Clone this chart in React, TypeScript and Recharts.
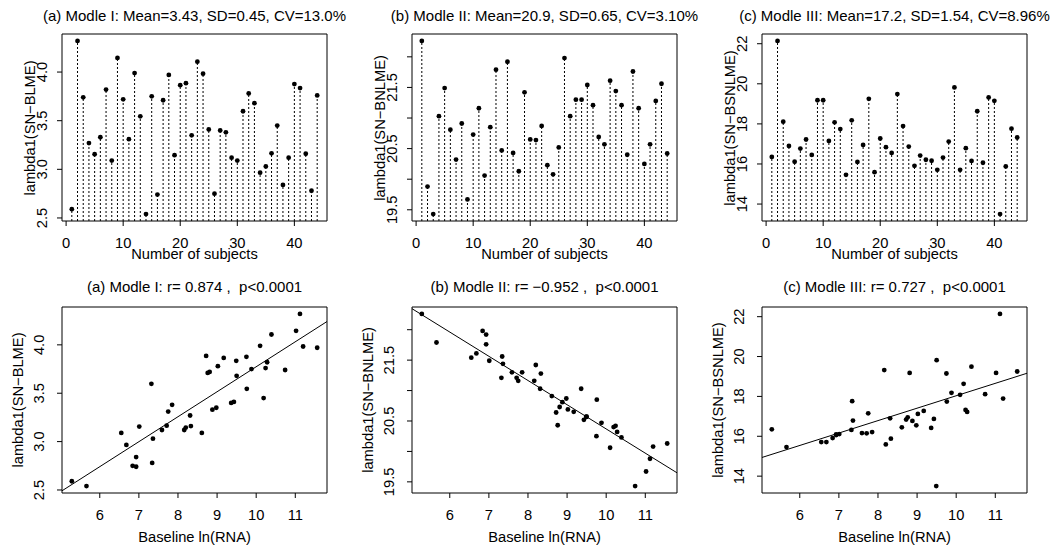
import React from "react";
import { ScatterChart, Scatter, XAxis, YAxis, ReferenceArea, ReferenceLine } from "recharts";

const FONT = "'Liberation Sans', Arial, Helvetica, sans-serif";
const FS = 14.7;

// subject number (top row x)
const subjects = [
  1, 2, 3, 4, 5, 6, 7, 8, 9, 10, 11, 12, 13, 14, 15, 16, 17, 18, 19, 20, 21, 22,
  23, 24, 25, 26, 27, 28, 29, 30, 31, 32, 33, 34, 35, 36, 37, 38, 39, 40, 41, 42, 43, 44,
];

// baseline ln(RNA) per subject (bottom row x)
const lnRNA = [
  5.285, 11.12, 10.74, 8.31, 7.01, 8.88, 10.28, 8.61, 11.02, 8.81, 7.75, 10.1, 9.76, 5.66,
  9.88, 6.93, 8.76, 11.56, 8.2, 9.17, 8.72, 8.98, 10.39, 11.2, 9.43, 6.84, 9.36, 7.85, 7.59,
  6.55, 7.32, 9.02, 9.5, 6.68, 7.36, 7.71, 10.19, 6.93, 8.16, 9.75, 9.49, 8.33, 7.34, 10.24,
];

const modelI = [
  2.59, 4.32, 3.74, 3.27, 3.155, 3.33, 3.82, 3.09, 4.145, 3.72, 3.31, 3.99, 3.545, 2.54,
  3.75, 2.74, 3.71, 3.97, 3.145, 3.865, 3.886, 3.35, 4.107, 3.983, 3.41, 2.75, 3.4, 3.38,
  3.12, 3.09, 3.597, 3.78, 3.68, 2.966, 3.03, 3.165, 3.45, 2.84, 3.12, 3.876, 3.835, 3.16,
  2.78, 3.76,
];

const modelII = [
  22.26, 19.88, 19.43, 21.03, 21.49, 20.81, 20.32, 20.91, 19.67, 20.73, 21.16, 20.06, 20.85,
  21.79, 20.47, 21.92, 20.43, 20.13, 21.42, 20.65, 20.64, 20.87, 20.23, 20.08, 20.52, 21.98,
  21.03, 21.3, 21.3, 21.54, 21.21, 20.69, 20.57, 21.61, 21.44, 21.21, 20.4, 21.76, 21.16,
  20.25, 20.57, 21.28, 21.56, 20.42,
];

const modelIII = [
  16.35, 22.14, 18.11, 16.9, 16.11, 16.77, 17.22, 16.45, 19.18, 19.18, 17.15, 18.08, 17.74,
  15.46, 18.18, 16.1, 16.95, 19.25, 15.59, 17.27, 16.84, 16.55, 19.49, 17.89, 16.87, 15.91,
  16.42, 16.21, 16.16, 15.71, 16.32, 17.12, 19.82, 15.71, 16.79, 16.15, 18.63, 16.06, 19.32,
  19.15, 13.5, 15.88, 17.76, 17.32,
];

const subjectTicks = [0, 10, 20, 30, 40];
const rnaTicks = [6, 7, 8, 9, 10, 11];
const ticksI = [2.5, 3.0, 3.5, 4.0];
const ticksII = [19.5, 20.0, 20.5, 21.0, 21.5, 22.0];
const shownII = [19.5, 20.5, 21.5];
const ticksIII = [14, 16, 18, 20, 22];

const topTitles = [
  "(a) Modle I: Mean=3.43, SD=0.45, CV=13.0%",
  "(b) Modle II: Mean=20.9, SD=0.65, CV=3.10%",
  "(c) Modle III: Mean=17.2, SD=1.54, CV=8.96%",
];
const bottomTitles = [
  "(a) Modle I: r= 0.874 ,  p<0.0001",
  "(b) Modle II: r= \u22120.952 ,  p<0.0001",
  "(c) Modle III: r= 0.727 ,  p<0.0001",
];
const yTitles = ["lambda1(SN\u2212BLME)", "lambda1(SN\u2212BNLME)", "lambda1(SN\u2212BSNLME)"];

// layout
const BOX_LEFTS = [62, 412, 762];
const BOX_W = 265;
const TOP_Y = 34;
const TOP_H = 187;
const BOT_Y = 307;
const BOT_H = 186;
const YW = 45;
const XH = 40;
const MT = 2;
const MR = 2;

const pad = (v: number[]): [number, number] => {
  const lo = Math.min(...v);
  const hi = Math.max(...v);
  const d = (hi - lo) * 0.04;
  return [lo - d, hi + d];
};

// least squares line, like abline(lm(y ~ x))
const fit = (xs: number[], ys: number[]) => {
  const n = xs.length;
  const mx = xs.reduce((a, b) => a + b, 0) / n;
  const my = ys.reduce((a, b) => a + b, 0) / n;
  let sxy = 0;
  let sxx = 0;
  for (let i = 0; i < n; i++) {
    sxy += (xs[i] - mx) * (ys[i] - my);
    sxx += (xs[i] - mx) ** 2;
  }
  const b = sxy / sxx;
  return { a: my - b * mx, b };
};

const Dot = (p: any) => <circle cx={p.cx} cy={p.cy} r={2.4} fill="#000" />;

interface PanelProps {
  boxLeft: number;
  boxTop: number;
  boxH: number;
  xs: number[];
  ys: number[];
  xTicks: number[];
  yTicks: number[];
  yShown: number[];
  digits: number;
  labelGap: number;
  stems?: boolean;
  line?: boolean;
}

const Panel = ({ boxLeft, boxTop, boxH, xs, ys, xTicks, yTicks, yShown, digits, labelGap, stems, line }: PanelProps) => {
  const data = xs.map((x, i) => ({ x, y: ys[i] }));
  const xDom = pad(xs);
  const yDom = pad(ys);
  const lm = fit(xs, ys);

  const XTick = ({ x, y, payload }: any) => (
    <text x={x} y={y + 17} dy="0.35em" textAnchor="middle" fontSize={FS} fontFamily={FONT} fill="#000">
      {payload.value}
    </text>
  );
  const YTick = ({ x, y, payload }: any) => {
    if (!yShown.includes(payload.value)) return <g />;
    const tx = x - labelGap;
    return (
      <text
        x={tx}
        y={y}
        dy="0.35em"
        transform={`rotate(-90 ${tx} ${y})`}
        textAnchor="middle"
        fontSize={FS}
        fontFamily={FONT}
        fill="#000"
      >
        {payload.value.toFixed(digits)}
      </text>
    );
  };

  return (
    <div style={{ position: "absolute", left: boxLeft - YW, top: boxTop - MT }}>
      <ScatterChart
        width={YW + BOX_W + MR}
        height={MT + boxH + XH}
        margin={{ top: MT, right: MR, bottom: 0, left: 0 }}
      >
        <XAxis
          type="number"
          dataKey="x"
          domain={xDom}
          ticks={xTicks}
          interval={0}
          height={XH}
          axisLine={false}
          tickLine={{ stroke: "#000" }}
          tickSize={5}
          tickMargin={0}
          tick={XTick}
          allowDataOverflow
        />
        <YAxis
          type="number"
          dataKey="y"
          domain={yDom}
          ticks={yTicks}
          interval={0}
          width={YW}
          axisLine={false}
          tickLine={{ stroke: "#000" }}
          tickSize={5}
          tickMargin={0}
          tick={YTick}
          allowDataOverflow
        />
        <ReferenceArea
          x1={xDom[0]}
          x2={xDom[1]}
          y1={yDom[0]}
          y2={yDom[1]}
          fill="none"
          fillOpacity={0}
          stroke="#000"
          strokeWidth={1}
        />
        {stems &&
          data.map((d, i) => (
            <ReferenceLine
              key={i}
              segment={[
                { x: d.x, y: yDom[0] },
                { x: d.x, y: d.y },
              ]}
              stroke="#000"
              strokeWidth={1}
              strokeDasharray="2 2"
            />
          ))}
        {line && (
          <ReferenceLine
            segment={[
              { x: xDom[0], y: lm.a + lm.b * xDom[0] },
              { x: xDom[1], y: lm.a + lm.b * xDom[1] },
            ]}
            stroke="#000"
            strokeWidth={1}
            ifOverflow="hidden"
          />
        )}
        <Scatter data={data} shape={Dot} isAnimationActive={false} />
      </ScatterChart>
    </div>
  );
};

const Txt = ({ x, y, text, rotate, size = FS }: { x: number; y: number; text: string; rotate?: boolean; size?: number }) => (
  <div
    style={{
      position: "absolute",
      left: x,
      top: y,
      transform: `translate(-50%, -50%)${rotate ? " rotate(-90deg)" : ""}`,
      whiteSpace: "pre",
      fontSize: size,
      lineHeight: 1,
      fontFamily: FONT,
      color: "#000",
    }}
  >
    {text}
  </div>
);

export default function App() {
  const series = [modelI, modelII, modelIII];
  const yTickSets = [ticksI, ticksII, ticksIII];
  const shownSets = [ticksI, shownII, ticksIII];
  const digitSets = [1, 1, 0];

  return (
    <div
      style={{
        position: "absolute",
        left: 0,
        top: 0,
        width: 1064,
        height: 548,
        background: "#fff",
        overflow: "hidden",
      }}
    >
      {BOX_LEFTS.map((bl, c) => (
        <React.Fragment key={c}>
          <Txt x={bl + BOX_W / 2} y={15} text={topTitles[c]} size={15} />
          <Panel
            boxLeft={bl}
            boxTop={TOP_Y}
            boxH={TOP_H}
            xs={subjects}
            ys={series[c]}
            xTicks={subjectTicks}
            yTicks={yTickSets[c]}
            yShown={shownSets[c]}
            digits={digitSets[c]}
            labelGap={15}
            stems
          />
          <Txt x={bl + BOX_W / 2} y={254} text="Number of subjects" />
          <Txt x={bl - 32} y={TOP_Y + TOP_H / 2} text={yTitles[c]} rotate />

          <Txt x={bl + BOX_W / 2} y={286} text={bottomTitles[c]} size={15} />
          <Panel
            boxLeft={bl}
            boxTop={BOT_Y}
            boxH={BOT_H}
            xs={lnRNA}
            ys={series[c]}
            xTicks={rnaTicks}
            yTicks={yTickSets[c]}
            yShown={shownSets[c]}
            digits={digitSets[c]}
            labelGap={18}
            line
          />
          <Txt x={bl + BOX_W / 2} y={537} text="Baseline ln(RNA)" />
          <Txt x={bl - 44} y={BOT_Y + BOT_H / 2} text={yTitles[c]} rotate />
        </React.Fragment>
      ))}
    </div>
  );
}
